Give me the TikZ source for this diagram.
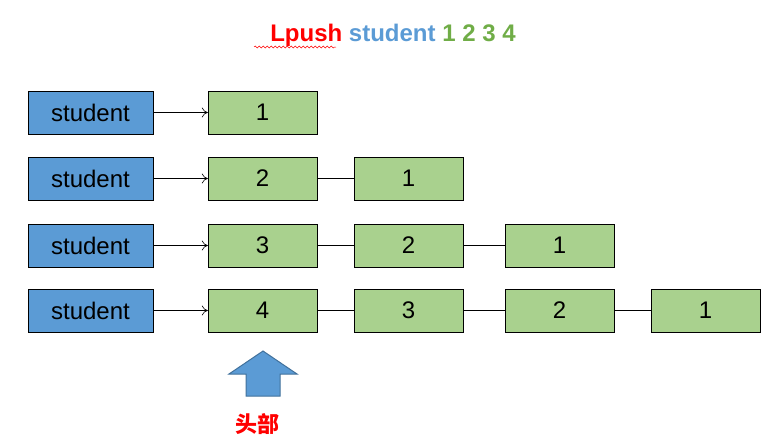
\documentclass[tikz,border=0pt]{standalone}
\usepackage{fontspec}
\setmainfont{Liberation Sans}
\newfontfamily\cjk{Noto Sans CJK SC}
\usetikzlibrary{decorations.pathmorphing,arrows.meta}
\definecolor{bblue}{HTML}{5B9BD5}
\definecolor{ggreen}{HTML}{A9D18E}
\definecolor{tgreen}{HTML}{70AD47}
\definecolor{dblue}{HTML}{41719C}
\begin{document}
\begin{tikzpicture}[x=1pt,y=-1pt,
  sbox/.style={draw=black,fill=bblue,minimum width=125pt,minimum height=43pt,inner sep=0pt,font=\fontsize{24}{28}\selectfont},
  gbox/.style={draw=black,fill=ggreen,minimum width=109pt,minimum height=43pt,inner sep=0pt,font=\fontsize{24}{28}\selectfont},
  link/.style={draw=black,line width=0.6pt},
  ptr/.style={link,-{To[length=6pt,width=10pt]}}]
\useasboundingbox (0,0) rectangle (781,440);
\node[font=\bfseries\fontsize{24}{28}\selectfont] (title) at (393,35)
 {\textcolor{red}{Lpush} \textcolor{bblue}{student} \textcolor{tgreen}{1 2 3 4}};
\draw[red,line width=0.5pt,decorate,decoration={snake,amplitude=1pt,segment length=4pt}] (254,47) -- (336,47);
\foreach \r/\y in {1/112.5,2/178.5,3/245.5,4/310.5}{
  \node[sbox] (s\r) at (90.5,\y) {student};
}
\node[gbox] (a1) at (262.5,112.5) {1};
\node[gbox] (b1) at (262.5,178.5) {2};
\node[gbox] (b2) at (408.5,178.5) {1};
\node[gbox] (c1) at (262.5,245.5) {3};
\node[gbox] (c2) at (408.5,245.5) {2};
\node[gbox] (c3) at (559.5,245.5) {1};
\node[gbox] (d1) at (262.5,310.5) {4};
\node[gbox] (d2) at (408.5,310.5) {3};
\node[gbox] (d3) at (559.5,310.5) {2};
\node[gbox] (d4) at (705.5,310.5) {1};
\draw[ptr] (s1) -- (a1);
\draw[ptr] (s2) -- (b1);
\draw[ptr] (s3) -- (c1);
\draw[ptr] (s4) -- (d1);
\draw[link] (b1) -- (b2);
\draw[link] (c1) -- (c2); \draw[link] (c2) -- (c3);
\draw[link] (d1) -- (d2); \draw[link] (d2) -- (d3); \draw[link] (d3) -- (d4);
\draw[fill=bblue,draw=dblue,line width=1pt] (263,351) -- (297,374) -- (280,374) -- (280,396) -- (246,396) -- (246,374) -- (229,374) -- cycle;
\node[text=red,font=\cjk\bfseries\fontsize{22}{26}\selectfont] (head) at (257,424) {头部};
\end{tikzpicture}
\end{document}
